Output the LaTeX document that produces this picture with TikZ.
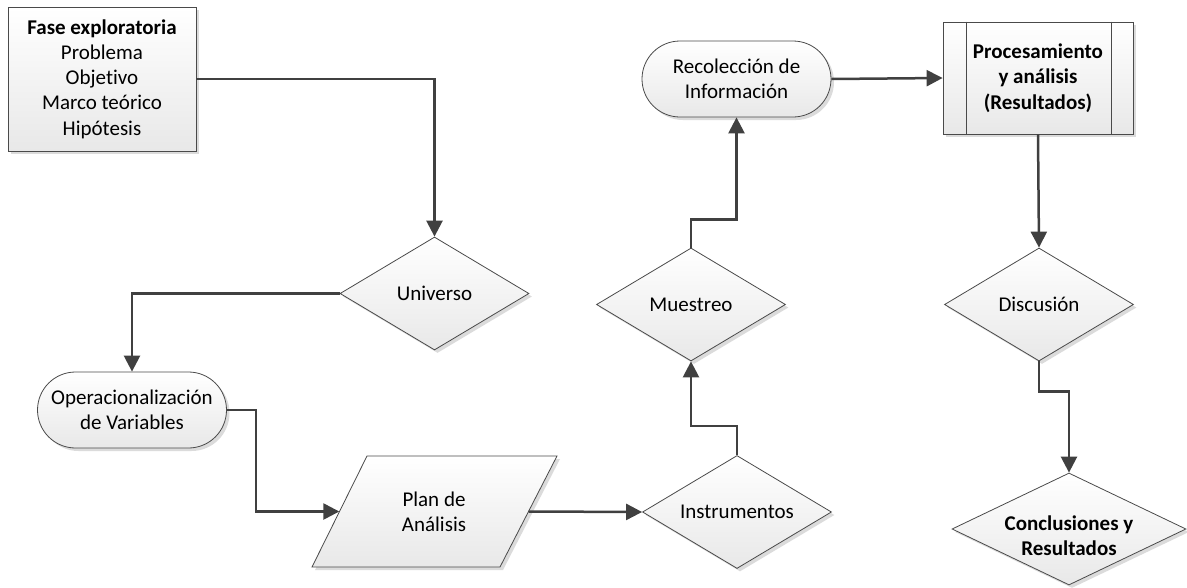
\documentclass[tikz,border=0pt]{standalone}
\usepackage{fontspec}
\setmainfont{Carlito}[Ligatures=NoCommon]
\usetikzlibrary{shapes.geometric,shapes.misc,arrows.meta,shadows,calc}
\definecolor{edgec}{HTML}{4A4A4A}
\definecolor{linec}{HTML}{404040}
\tikzset{
  shapefill/.style={draw=edgec, line width=0.8pt, top color=white, bottom color=black!9,
    drop shadow={shadow xshift=3pt, shadow yshift=-3pt, fill=black!14, opacity=1}},
  txt/.style={font=\fontsize{21}{25.3}\selectfont, align=center, inner sep=0pt},
  btxt/.style={font=\fontsize{21}{25.3}\selectfont\bfseries, align=center, inner sep=0pt},
  boxn/.style={shapefill, rectangle, minimum width=188pt, minimum height=144pt},
  dia/.style={shapefill, diamond, minimum width=189pt, minimum height=113pt, aspect=1.67},
  stad/.style={shapefill, rounded rectangle, minimum width=189pt, minimum height=76pt},
  conn/.style={draw=linec, line width=2.5pt, -{Triangle[length=16pt,width=16pt]}},
}
\begin{document}
\begin{tikzpicture}[x=1pt,y=-1pt]
\useasboundingbox (0,0) rectangle (1187,587);

% nodes
\node[boxn, txt] (fase) at (102,79) {\textbf{Fase exploratoria}\\Problema\\Objetivo\\Marco teórico\\Hipótesis};
\node[dia, txt] (universo) at (434.5,293.5) {Universo};
\node[stad, txt] (opera) at (132,410) {Operacionalización\\de Variables};
\draw[shapefill] (367,456) -- (557,456) -- (500,567) -- (312,567) -- cycle;
\node[txt, minimum width=189pt, minimum height=111pt] (plan) at (434,511.5) {Plan de\\Análisis};
\node[dia, txt] (instr) at (737,512) {Instrumentos};
\node[dia, txt] (muestreo) at (691,304.5) {Muestreo};
\node[stad, txt] (recol) at (736.5,79) {Recolección de\\Información};
\node[shapefill, rectangle, minimum width=190pt, minimum height=112pt, btxt] (proc) at (1038,78) {Procesamiento\\y análisis\\(Resultados)};
\draw[draw=edgec, line width=0.8pt] ($(proc.north west)+(24,0)$) -- ($(proc.south west)+(24,0)$);
\draw[draw=edgec, line width=0.8pt] ($(proc.north east)+(-22,0)$) -- ($(proc.south east)+(-22,0)$);
\node[dia, txt] (disc) at (1039,304.5) {Discusión};
\node[dia, aspect=2.09, minimum width=234pt, minimum height=112pt] (concl) at (1069,529) {};
\node[btxt] (concltxt) at (1069,536) {Conclusiones y\\Resultados};

% connectors
\draw[conn] (fase.east) -| (universo.north);
\draw[conn] (universo.west) -| (opera.north);
\draw[conn] (opera.east) -- ++(29,0) |- (plan.west);
\draw[conn] (plan.east) -- (instr.west);
\draw[conn] (instr.north) -- ++(0,-29) -| (muestreo.south);
\draw[conn] (muestreo.north) -- ++(0,-28) -| (recol.south);
\draw[conn] (recol.east) -- (proc.west);
\draw[conn] (proc.south) -- (disc.north);
\draw[conn] (disc.south) -- ++(0,30) -| (concl.north);
\end{tikzpicture}
\end{document}
